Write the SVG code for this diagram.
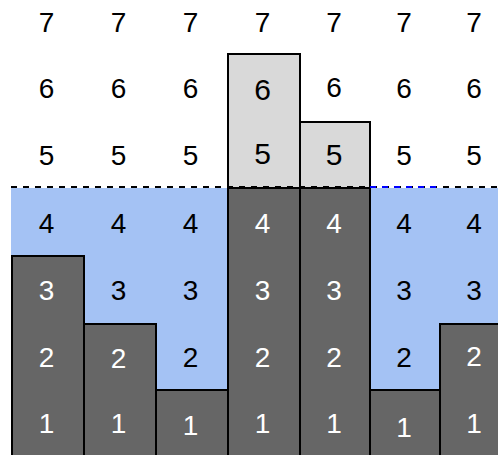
<svg xmlns="http://www.w3.org/2000/svg" width="498" height="455" viewBox="0 0 498 455">
<style>
text{font-family:"Liberation Sans",Arial,sans-serif;font-size:28px;text-anchor:middle}
.w{fill:#ffffff}
.k{fill:#000000}
.bar{fill:#666666;stroke:#000;stroke-width:2}
.lt{fill:#d9d9d9;stroke:#000;stroke-width:2}
.big{font-size:30px}
</style>
<rect id="water" x="11" y="188" width="490" height="270" fill="#a4c2f4"/>
<g id="col1">
<rect class="bar" x="12" y="256" width="72" height="210"/>
<text class="k" x="46.5" y="32">7</text>
<text class="k" x="46.5" y="98">6</text>
<text class="k" x="46.5" y="165">5</text>
<text class="k" x="46.5" y="233">4</text>
<text class="w" x="46.5" y="300">3</text>
<text class="w" x="46.5" y="367">2</text>
<text class="w" x="46.5" y="433">1</text>
</g>
<g id="col2">
<rect class="bar" x="84" y="324" width="72" height="140"/>
<text class="k" x="118.5" y="32">7</text>
<text class="k" x="118.5" y="98">6</text>
<text class="k" x="118.5" y="165">5</text>
<text class="k" x="118.5" y="233">4</text>
<text class="k" x="118.5" y="300">3</text>
<text class="w" x="118.5" y="368">2</text>
<text class="w" x="118.5" y="433">1</text>
</g>
<g id="col3">
<rect class="bar" x="156" y="390" width="72" height="80"/>
<text class="k" x="190.5" y="32">7</text>
<text class="k" x="190.5" y="98">6</text>
<text class="k" x="190.5" y="165">5</text>
<text class="k" x="190.5" y="233">4</text>
<text class="k" x="190.5" y="300">3</text>
<text class="k" x="190.5" y="367">2</text>
<text class="w" x="190.5" y="435">1</text>
</g>
<g id="col4">
<rect class="lt" x="228" y="54" width="72" height="134"/>
<rect class="bar" x="228" y="188" width="72" height="280"/>
<text class="k" x="262.5" y="32">7</text>
<text class="k big" x="262.5" y="100">6</text>
<text class="k big" x="262.5" y="164">5</text>
<text class="w" x="262.5" y="233">4</text>
<text class="w" x="262.5" y="300">3</text>
<text class="w" x="262.5" y="367">2</text>
<text class="w" x="262.5" y="433">1</text>
</g>
<g id="col5">
<rect class="lt" x="300" y="122" width="70" height="66"/>
<rect class="bar" x="300" y="188" width="70" height="280"/>
<text class="k" x="334" y="32">7</text>
<text class="k" x="334" y="97">6</text>
<text class="k big" x="334" y="165">5</text>
<text class="w" x="334" y="233">4</text>
<text class="w" x="334" y="300">3</text>
<text class="w" x="334" y="367">2</text>
<text class="w" x="334" y="433">1</text>
</g>
<g id="col6">
<rect class="bar" x="370" y="390" width="70" height="80"/>
<text class="k" x="404" y="32">7</text>
<text class="k" x="404" y="98">6</text>
<text class="k" x="404" y="165">5</text>
<text class="k" x="404" y="233">4</text>
<text class="k" x="404" y="300">3</text>
<text class="k" x="404" y="367">2</text>
<text class="w" x="404" y="437">1</text>
</g>
<g id="col7">
<rect class="bar" x="440" y="324" width="70" height="140"/>
<text class="k" x="474" y="32">7</text>
<text class="k" x="474" y="98">6</text>
<text class="k" x="474" y="165">5</text>
<text class="k" x="474" y="233">4</text>
<text class="k" x="474" y="300">3</text>
<text class="w" x="474" y="366">2</text>
<text class="w" x="474" y="433">1</text>
</g>
<g id="connectors" fill="none" stroke-width="2" stroke-dasharray="6 6">
<line x1="11" y1="187" x2="498" y2="187" stroke="#000"/>
<line x1="370" y1="187" x2="436" y2="187" stroke="#0000ff"/>
</g>
</svg>
